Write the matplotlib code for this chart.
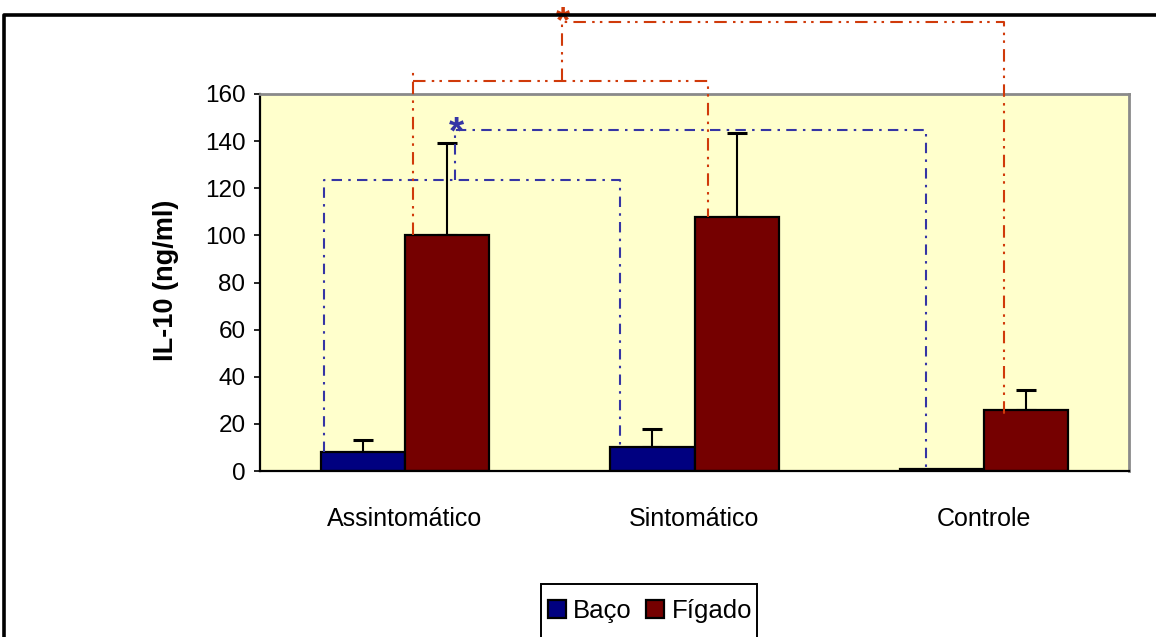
import matplotlib
matplotlib.use("Agg")
import matplotlib.pyplot as plt
from matplotlib.lines import Line2D
from matplotlib.patches import Rectangle

plt.rcParams['font.family'] = ['Liberation Sans', 'DejaVu Sans']

# Data
categories = ["Assintomático", "Sintomático", "Controle"]
series_names = ["Baço", "Fígado"]
baco = [8, 10, 1]
baco_err = [5, 8, 0]
figado = [100, 108, 26]
figado_err = [39, 35.5, 8.5]
y_ticks = [0, 20, 40, 60, 80, 100, 120, 140, 160]

# Significance brackets (y levels in data units)
blue_low, blue_high = 123.5, 144.7
red_low, red_stub, red_high = 165.5, 169.4, 190.6

navy = "#000080"
maroon = "#750000"
blue_line = "#3535A5"
red_line = "#D03A0A"

fig = plt.figure(figsize=(11.56, 6.37), dpi=100)
ax = fig.add_axes([260 / 1156, 1 - 471 / 637, 869 / 1156, 377 / 637])
ax.set_facecolor("#FFFFCC")

w = 0.29
x = list(range(len(categories)))
xb = [i - w / 2 for i in x]
xf = [i + w / 2 for i in x]

bars_b = ax.bar(xb, baco, width=w, color=navy, edgecolor="black", linewidth=1.6, zorder=3, label=series_names[0])
bars_f = ax.bar(xf, figado, width=w, color=maroon, edgecolor="black", linewidth=1.6, zorder=3, label=series_names[1])

# Upward-only error bars
for xs, vals, errs in ((xb, baco, baco_err), (xf, figado, figado_err)):
    for xi, v, e in zip(xs, vals, errs):
        if e > 0:
            ax.errorbar([xi], [v], yerr=[[0], [e]], fmt="none", ecolor="black",
                        elinewidth=1.5, capsize=7, capthick=2.2, zorder=2)

ax.set_xlim(-0.5, 2.5)
ax.set_ylim(0, 160)
ax.set_yticks(y_ticks)
ax.set_xticks(x)
ax.set_xticklabels(categories)
ax.tick_params(axis="x", length=0, pad=26, labelsize=18)
ax.tick_params(axis="y", length=4.5, width=1.2, pad=6, labelsize=17.5, direction="out")

ax.set_ylabel("IL-10 (ng/ml)", fontsize=19.5, fontweight="bold")
ax.yaxis.set_label_coords(-0.093, 0.505)

for side in ("left", "bottom"):
    ax.spines[side].set_color("black")
    ax.spines[side].set_linewidth(1.6)
for side in ("top", "right"):
    ax.spines[side].set_color("#8A8A8A")
    ax.spines[side].set_linewidth(2.0)
ax.spines["bottom"].set_zorder(4)

blue_style = dict(color=blue_line, lw=1.5, linestyle=(0, (5, 3, 1.2, 3)), zorder=4, clip_on=False)
red_style = dict(color=red_line, lw=1.5, linestyle=(0, (6, 3, 1.2, 2.5, 1.2, 3)), zorder=4, clip_on=False)

# Blue bracket: Baço Assintomático vs Baço Sintomático
bl = xb[0] - w / 2 + 0.011
br = xb[1] - w / 2 + 0.033
ax.plot([bl, bl, br, br], [baco[0], blue_low, blue_low, baco[1]], **blue_style)
# Blue bracket: that pair vs Baço Controle
bm = (bl + br) / 2 - 0.06
bc = xb[2] - 0.055
ax.plot([bm, bm, bc, bc], [blue_low, blue_high, blue_high, baco[2]], **blue_style)
ax.text(bm + 0.007, blue_high - 1.5, "*", color=blue_line, fontsize=28, fontweight="bold",
        ha="center", va="center", zorder=5)

# Red bracket: Fígado Assintomático vs Fígado Sintomático
rl = xf[0] - 0.117
rr = xf[1] - 0.098
ax.plot([rl, rl], [figado[0], red_stub], **red_style)
ax.plot([rl, rr, rr], [red_low, red_low, figado[1]], **red_style)
# Red bracket: that pair vs Fígado Controle
rm = (rl + rr) / 2 + 0.005
rc = xf[2] - 0.076
ax.plot([rm, rm, rc, rc], [red_low, red_high, red_high, figado[2] - 2], **red_style)
ax.text(rm + 0.004, red_high - 0.2, "*", color=red_line, fontsize=26, fontweight="bold",
        ha="center", va="center", zorder=5, clip_on=False)

# Outer chart frame (top and left edges)
fig.add_artist(Line2D([4 / 1156, 4 / 1156, 1.0], [0.0, 1 - 15 / 637, 1 - 15 / 637],
                      color="black", lw=2.6, transform=fig.transFigure))

# Legend box
fig.add_artist(Rectangle((541 / 1156, -0.05), 216 / 1156, (1 - 584 / 637) + 0.05,
                         transform=fig.transFigure, facecolor="white", edgecolor="black", lw=1.4))
leg = fig.legend(handles=[bars_b, bars_f], labels=series_names, loc="center",
                 bbox_to_anchor=(650 / 1156, 1 - 611 / 637), ncol=2, frameon=False,
                 fontsize=18.5, handlelength=0.7, handleheight=0.7, handletextpad=0.3,
                 columnspacing=0.55, borderaxespad=0)

fig.savefig("out.png", dpi=100)
